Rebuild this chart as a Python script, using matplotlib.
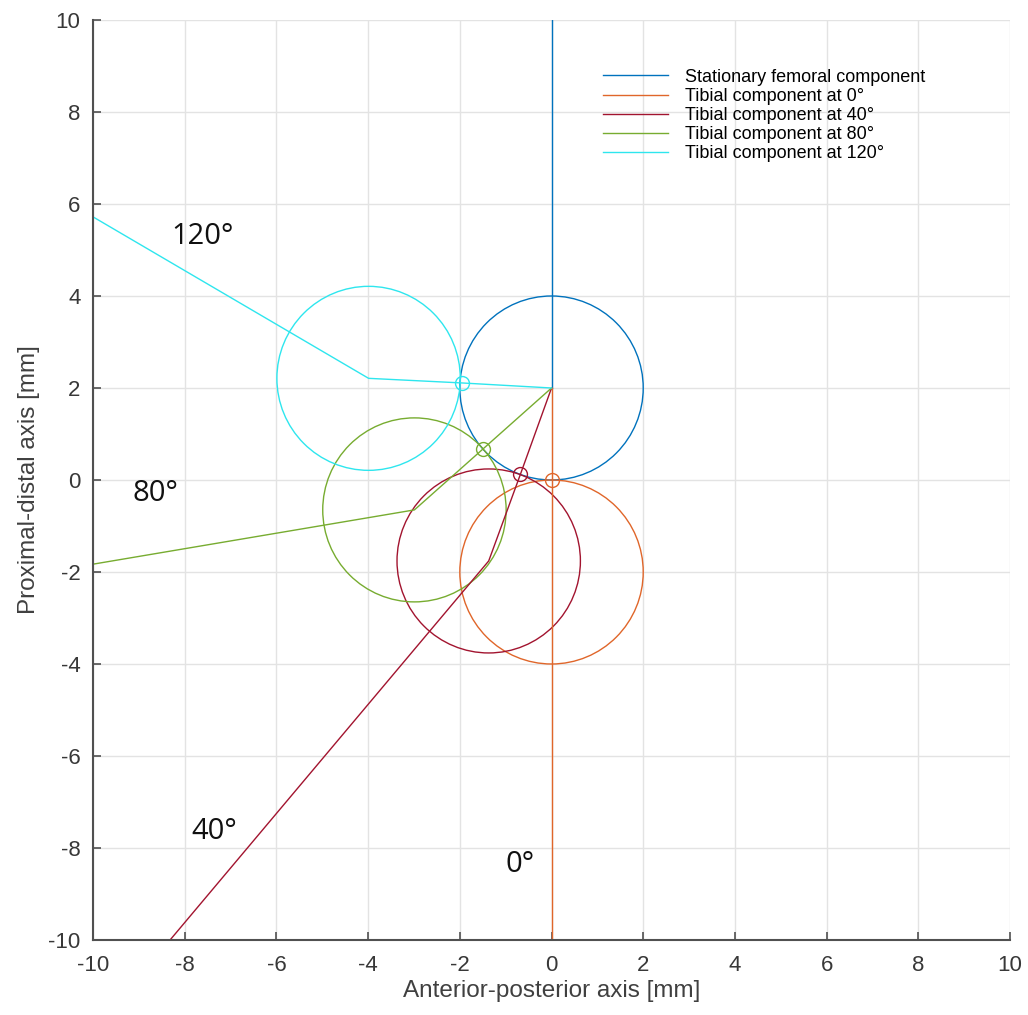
import matplotlib
matplotlib.use('Agg')
import matplotlib.pyplot as plt
from matplotlib.patches import Circle

# femoral component: circle centre, radius, shaft top
fem_cx, fem_cy = 0.0, 2.0
radius = 2.0
shaft_top = 10.0

# tibial component positions for each flexion angle
flexion = [0, 40, 80, 120]
contact_x = [0.0, -0.68, -1.50, -1.96]
contact_y = [0.0, 0.12, 0.67, 2.11]
tibia_cx = [0.0, -1.37, -2.99, -3.99]
tibia_cy = [-2.0, -1.76, -0.65, 2.21]
tail_x = [0.0, -8.32, -10.0, -10.0]
tail_y = [-10.0, -10.0, -1.83, 5.72]

# where the angle annotations go
label_x = [-1.0, -7.85, -9.15, -8.3]
label_y = [-8.35, -7.65, -0.3, 5.3]

names = ['Stationary femoral component'] + ['Tibial component at %d\u00b0' % a for a in flexion]
colors = ['#0072BD', '#E0662A', '#A2142F', '#77AC30', '#2EE6EE']
lw = 1.0

plt.rcParams['font.family'] = ['Liberation Sans', 'DejaVu Sans']
plt.rcParams['axes.unicode_minus'] = False

fig = plt.figure(figsize=(10.28, 10.15), dpi=100)
ax = fig.add_axes([0.0905, 0.0739, 0.892, 0.9064])

handles = []
# femur
h, = ax.plot([fem_cx, fem_cx], [fem_cy, shaft_top], color=colors[0], lw=lw)
ax.add_patch(Circle((fem_cx, fem_cy), radius, fill=False, ec=colors[0], lw=lw))
handles.append(h)

# tibia at each angle
for i in range(len(flexion)):
    c = colors[i + 1]
    h, = ax.plot([fem_cx, contact_x[i], tibia_cx[i], tail_x[i]],
                 [fem_cy, contact_y[i], tibia_cy[i], tail_y[i]], color=c, lw=lw)
    ax.add_patch(Circle((tibia_cx[i], tibia_cy[i]), radius, fill=False, ec=c, lw=lw))
    ax.plot(contact_x[i], contact_y[i], 'o', mfc='none', mec=c, ms=10, mew=lw)
    ax.text(label_x[i], label_y[i], '%d\u00b0' % flexion[i], fontsize=21,
            family=['Open Sans', 'DejaVu Sans'], color='#111111', va='center')
    handles.append(h)

ax.set_xlim(-10, 10)
ax.set_ylim(-10, 10)
ax.set_xticks(range(-10, 11, 2))
ax.set_yticks(range(-10, 11, 2))
ax.grid(True, color='#e3e3e3', lw=1.0)
ax.set_axisbelow(True)
for s in ['top', 'right']:
    ax.spines[s].set_visible(False)
for s in ['left', 'bottom']:
    ax.spines[s].set_color('#505050')
    ax.spines[s].set_linewidth(1.5)
ax.tick_params(direction='in', length=6, width=1.2, color='#505050',
               labelsize=16, labelcolor='#383838', pad=9)
ax.tick_params(axis='x', pad=11)
ax.set_xlabel('Anterior-posterior axis [mm]', fontsize=17.5, color='#404040', labelpad=3)
ax.set_ylabel('Proximal-distal axis [mm]', fontsize=17.5, color='#404040', labelpad=6)

ax.legend(handles, names, loc='upper left', bbox_to_anchor=(0.556, 0.947),
          frameon=False, fontsize=13, handlelength=3.6, handletextpad=0.95,
          borderpad=0, borderaxespad=0, labelspacing=0.12)

fig.savefig('out.png', dpi=100)
